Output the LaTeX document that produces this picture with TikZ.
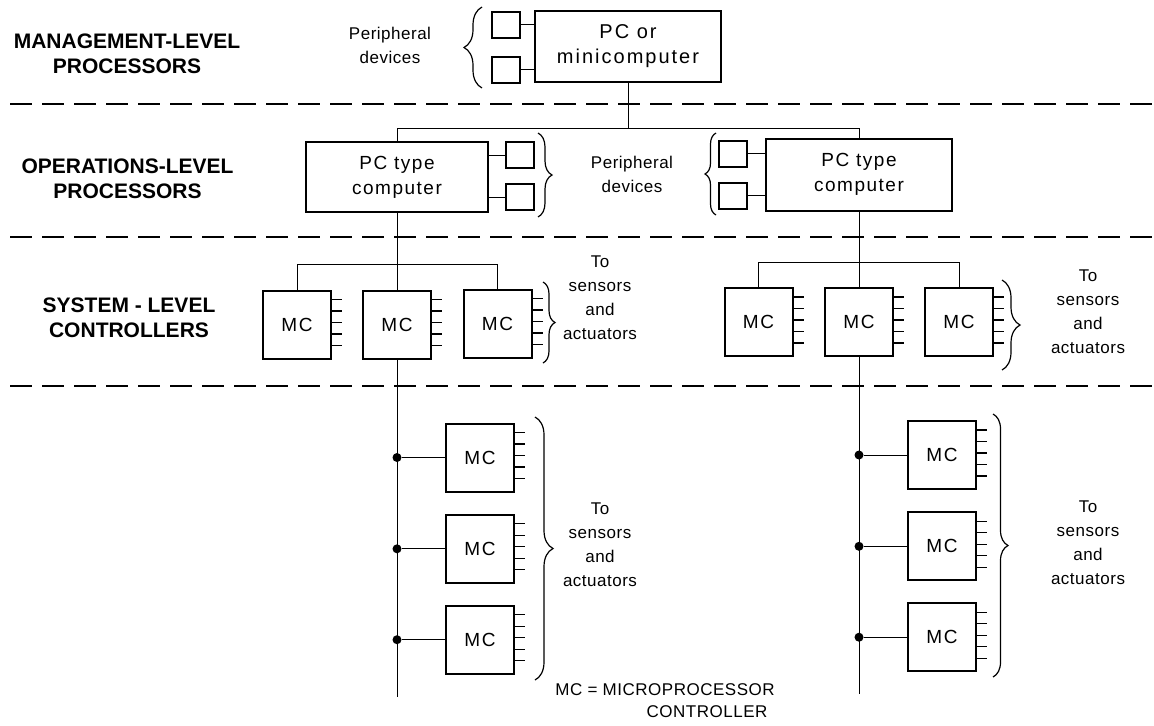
\documentclass[tikz,border=0pt]{standalone}
\usepackage{fontspec}
\setmainfont{Liberation Sans}
\newfontfamily\boxfont[LetterSpace=8]{Liberation Sans}
\newfontfamily\bigboxfont[LetterSpace=10]{Liberation Sans}
\newfontfamily\sidefont[LetterSpace=3]{Liberation Sans}
\usetikzlibrary{decorations.pathreplacing}
\begin{document}
\begin{tikzpicture}[x=0.5pt,y=-0.5pt,
  box/.style={draw,line width=1pt,inner sep=0pt,align=center,font=\boxfont\fontsize{9.5}{12.5}\selectfont},
  sq/.style={draw,line width=1pt,inner sep=0pt,minimum width=14pt,minimum height=13pt},
  mc/.style={draw,line width=1pt,inner sep=0pt,minimum size=34pt,font=\boxfont\fontsize{9.5}{12}\selectfont},
  wire/.style={line width=0.5pt},
  stub/.style={line width=0.6pt},
  sep/.style={line width=1pt,dash pattern=on 11pt off 5pt},
  brc/.style={decorate,decoration={brace,amplitude=#1},line width=0.6pt},
  lab/.style={font=\bfseries\fontsize{10.5}{12.5}\selectfont,align=center},
  side/.style={font=\sidefont\fontsize{8.5}{12}\selectfont,align=center},
  dot/.style={circle,fill,inner sep=0pt,minimum size=4.5pt}
]
\useasboundingbox (0,0) rectangle (1154,725);

% level labels
\node[lab] (l1) at (127,54) {MANAGEMENT-LEVEL\\PROCESSORS};
\node[lab] (l2) at (127.5,178.5) {OPERATIONS-LEVEL\\PROCESSORS};
\node[lab] (l3) at (129,318) {SYSTEM - LEVEL\\CONTROLLERS};

% separators
\draw[sep] (10,104) -- (1152,104);
\draw[sep] (10,237) -- (1152,237);
\draw[sep] (10,386) -- (1152,386);

% management level
\node[box,minimum width=93pt,minimum height=35.5pt,font=\bigboxfont\fontsize{10}{12.5}\selectfont] (pcm) at (628,46.5) {PC or\\minicomputer};
\node[sq] (pm1) at (505.5,24.5) {};
\node[sq] (pm2) at (505.5,69.5) {};
\draw[wire] (pm1.east) -- (pm1.east -| pcm.west);
\draw[wire] (pm2.east) -- (pm2.east -| pcm.west);
\draw[brc=9pt] (482,88) -- (482,7);
\node[side] (pdm) at (390,45) {Peripheral\\devices};

% operations level
\node[box,minimum width=91pt,minimum height=35pt] (pco1) at (397,177) {PC type\\computer};
\node[sq] (po1a) at (520,155) {};
\node[sq] (po1b) at (520,197) {};
\draw[wire] (po1a.west) -- (po1a.west -| pco1.east);
\draw[wire] (po1b.west) -- (po1b.west -| pco1.east);
\draw[brc=7pt] (538,133) -- (538,217);

\node[box,minimum width=93pt,minimum height=36pt] (pco2) at (859,174.5) {PC type\\computer};
\node[sq] (po2a) at (732.5,153.5) {};
\node[sq] (po2b) at (732.5,195.5) {};
\draw[wire] (po2a.east) -- (po2a.east -| pco2.west);
\draw[wire] (po2b.east) -- (po2b.east -| pco2.west);
\draw[brc=5.5pt] (716,215) -- (716,133);
\node[side] (pdo) at (632,174) {Peripheral\\devices};

\coordinate (b1) at (628,128);
\draw[wire] (pcm.south) -- (b1);
\draw[wire] (pco1.north) |- (b1) -| (pco2.north);

% system level
\node[mc] (s1a) at (297,324.5) {MC};
\node[mc] (s1b) at (397,324.5) {MC};
\node[mc] (s1c) at (497.5,323.5) {MC};
\node[mc] (s2a) at (758.5,322) {MC};
\node[mc] (s2b) at (859,322) {MC};
\node[mc] (s2c) at (959,322) {MC};
\coordinate (h1) at (397,264);
\coordinate (h2) at (859,262);
\draw[wire] (pco1.south) -- (s1b.north);
\draw[wire] (s1a.north) |- (h1) -| (s1c.north);
\draw[wire] (pco2.south) -- (s2b.north);
\draw[wire] (s2a.north) |- (h2) -| (s2c.north);
\draw[brc=6pt] (543,282) -- (543,363);
\draw[brc=9pt] (1002,280) -- (1002,370);
\node[side] (t1) at (600,298) {To\\sensors\\and\\actuators};
\node[side] (t2) at (1088,312) {To\\sensors\\and\\actuators};

% field level
\node[mc] (f1a) at (480,457.5) {MC};
\node[mc] (f1b) at (480,548.8) {MC};
\node[mc] (f1c) at (480,639.7) {MC};
\node[mc] (f2a) at (942,455) {MC};
\node[mc] (f2b) at (942,546.3) {MC};
\node[mc] (f2c) at (942,637.2) {MC};
\coordinate (e1) at (397,697);
\coordinate (e2) at (859,694);
\draw[wire] (s1b.south) -- (e1);
\draw[wire] (s2b.south) -- (e2);
\foreach \f in {f1a,f1b,f1c}{
  \node[dot] (d\f) at (e1 |- \f) {};
  \draw[wire] (d\f) -- (\f.west);
}
\foreach \f in {f2a,f2b,f2c}{
  \node[dot] (d\f) at (e2 |- \f) {};
  \draw[wire] (d\f) -- (\f.west);
}
\draw[brc=9pt] (535,417) -- (535,680);
\draw[brc=7.5pt] (993,414) -- (993,677);
\node[side] (t3) at (600,545) {To\\sensors\\and\\actuators};
\node[side] (t4) at (1088,543) {To\\sensors\\and\\actuators};

% stubs
\foreach \n in {s1a,s1b,s1c,s2a,s2b,s2c,f1a,f1b,f1c,f2a,f2b,f2c}{
  \foreach \k in {0,...,4}{
    \draw[stub] (\n.north east) ++(0,{10+11.5*\k}) -- ++(10,0);
  }
}

% legend
\node[side] (ft1) at (665,690) {MC = MICROPROCESSOR};
\node[side] (ft2) at (707,712) {CONTROLLER};
\end{tikzpicture}
\end{document}
